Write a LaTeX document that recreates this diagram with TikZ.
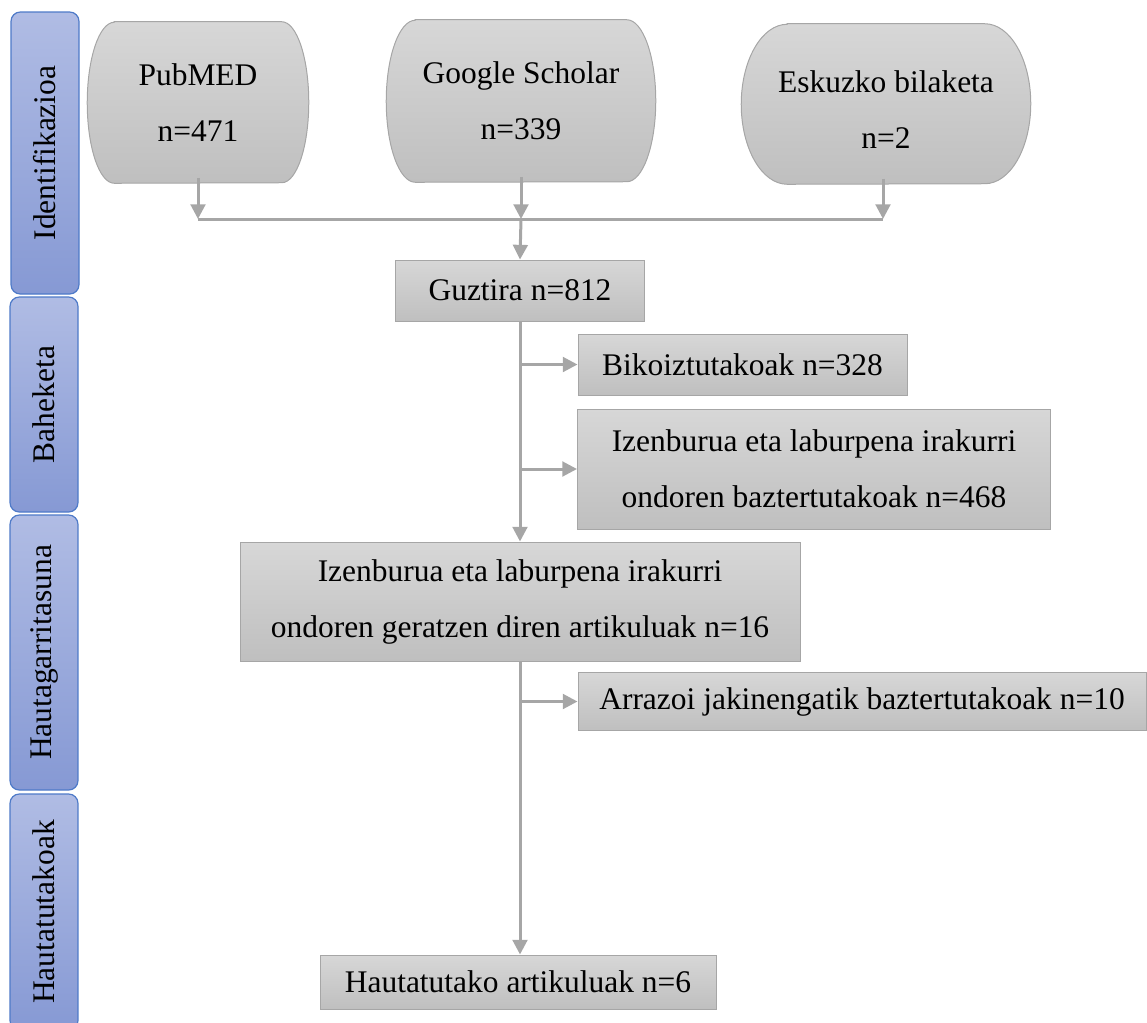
\documentclass[tikz,border=0pt]{standalone}
\usepackage{fontspec}
\setmainfont{Liberation Serif}
\usetikzlibrary{arrows.meta}
\definecolor{gtop}{HTML}{D7D7D7}
\definecolor{gbot}{HTML}{BFBFBF}
\definecolor{gline}{HTML}{A6A6A6}
\definecolor{bleft}{HTML}{B0BCE4}
\definecolor{bright}{HTML}{8699D4}
\definecolor{bline}{HTML}{4E7AC8}
\pgfdeclarelayer{bg}
\pgfsetlayers{bg,main}
\newcommand\bulgeshape[3]{% node, bulge, half height
  \path[draw=gline, line width=0.75pt, top color=gtop, bottom color=gbot]
    ([xshift=#2*0.75pt]#1.north west) -- ([xshift=-#2*0.75pt]#1.north east)
    arc[start angle=90, end angle=-90, x radius=#2, y radius=#3]
    -- ([xshift=#2*0.75pt]#1.south west)
    arc[start angle=270, end angle=90, x radius=#2, y radius=#3] -- cycle;}
\begin{document}
\begin{tikzpicture}[x=0.75pt,y=0.75pt,
  txt/.style={font=\fontsize{23.6pt}{42pt}\selectfont, align=center, inner sep=0pt},
  gbox/.style={txt, draw=gline, line width=0.75pt, top color=gtop, bottom color=gbot},
  topbox/.style={txt},
  side/.style={draw=bline, line width=0.9pt, rounded corners=7pt, top color=bleft, bottom color=bright,
    rotate=90, txt, minimum height=68*0.75pt},
  conn/.style={draw=gline, line width=2.25pt},
  arr/.style={conn, -{Triangle[length=11pt,width=11pt]}}]
\useasboundingbox (0,0) rectangle (1147,-1022);

% side labels
\node[side, minimum width=282*0.75pt] (s1) at (45,-153) {Identifikazioa};
\node[side, minimum width=215*0.75pt] (s2) at (44,-404.5) {Baheketa};
\node[side, minimum width=275*0.75pt] (s3) at (44,-652.5) {Hautagarritasuna};
\node[side, minimum width=236*0.75pt] (s4) at (44,-912) {Hautatutakoak};

% top sources
\node[topbox, minimum width=221*0.75pt, minimum height=161*0.75pt] (pub) at (198,-102.5) {PubMED\\n=471};
\node[topbox, minimum width=269*0.75pt, minimum height=162*0.75pt] (gs) at (521,-101) {Google Scholar\\n=339};
\node[topbox, minimum width=289*0.75pt, minimum height=160*0.75pt] (esk) at (886,-104) {};
\node[txt] (eskt) at (886,-110) {Eskuzko bilaketa\\n=2};
\begin{pgfonlayer}{bg}
\bulgeshape{pub}{27}{80.5}
\bulgeshape{gs}{29}{81}
\bulgeshape{esk}{46}{80}
\end{pgfonlayer}

% boxes
\node[gbox, minimum width=249*0.75pt, minimum height=61*0.75pt] (gz) at (520,-290.5) {Guztira n=812};
\node[gbox, minimum width=329*0.75pt, minimum height=61*0.75pt] (bk) at (742.5,-364.5) {Bikoiztutakoak n=328};
\node[gbox, minimum width=473*0.75pt, minimum height=120*0.75pt] (iz1) at (814,-469) {Izenburua eta laburpena irakurri\\ondoren baztertutakoak n=468};
\node[gbox, minimum width=560*0.75pt, minimum height=119*0.75pt] (iz2) at (520,-601.5) {Izenburua eta laburpena irakurri\\ondoren geratzen diren artikuluak n=16};
\node[gbox, minimum width=568*0.75pt, minimum height=58*0.75pt] (ar) at (862,-701.5) {Arrazoi jakinengatik baztertutakoak n=10};
\node[gbox, minimum width=396*0.75pt, minimum height=54*0.75pt] (ha) at (518,-982) {Hautatutako artikuluak n=6};

% connectors
\coordinate (hl) at (198,-219);
\coordinate (hm) at (521,-219);
\coordinate (hr) at (883,-219);
\draw[conn] (hl) -- (hr);
\draw[arr] ([yshift=4pt]pub.south) -- (hl);
\draw[arr] ([yshift=4pt]gs.south) -- (hm);
\draw[arr] ([xshift=-2.25pt,yshift=4pt]esk.south) -- (hr);
\draw[arr] (hm) -- (gz.north);
\draw[arr] (gz.south) -- (iz2.north);
\draw[arr] (gz.south |- bk.west) -- (bk.west);
\draw[arr] (gz.south |- iz1.west) -- (iz1.west);
\draw[arr] (iz2.south) -- (iz2.south |- ha.north);
\draw[arr] (iz2.south |- ar.west) -- (ar.west);
\end{tikzpicture}
\end{document}
